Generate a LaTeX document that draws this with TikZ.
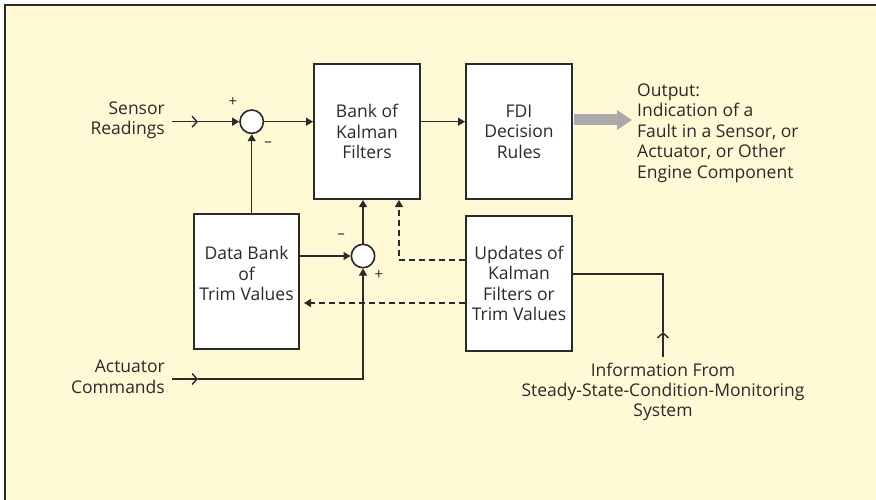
\documentclass[tikz,border=0pt]{standalone}
\usepackage{fontspec}
\setmainfont{Open Sans}
\usetikzlibrary{arrows.meta}
\definecolor{bg}{HTML}{FFF9D6}
\definecolor{ink}{HTML}{2A2A2A}
\definecolor{outgray}{HTML}{A9A9A9}
\newcommand\dtxt{\fontsize{17.5}{20.4}\selectfont}
\begin{document}
\begin{tikzpicture}[x=1pt,y=-1pt,
  blk/.style={draw=ink, line width=2pt, fill=white, minimum width=106pt, minimum height=135pt, inner sep=0pt, align=center, font=\dtxt, text=ink},
  txt/.style={inner sep=0pt, font=\dtxt, text=ink},
  sumc/.style={circle, draw=ink, line width=1.6pt, fill=white, minimum size=23.4pt, inner sep=0pt},
  wire/.style={draw=ink, line width=1.4pt},
  conn/.style={wire, -{Triangle[length=7pt,width=8pt]}},
  dconn/.style={conn, dash pattern=on 6pt off 4pt},
  barb/.style={wire, -{Straight Barb[length=5pt,width=11pt]}},
  sgn/.style={inner sep=0pt, font=\fontsize{15}{15}\selectfont, text=ink}]
\useasboundingbox (0,0) rectangle (876,500);
\fill[bg] (5,5) rectangle (876,500);
\draw[ink, line width=1.5pt] (5,500) -- (5,5) -- (876,5);

% blocks
\node[blk] (bank) at (367,131.5) {Bank of\\Kalman\\Filters};
\node[blk] (fdi) at (519,131.5) {FDI\\Decision\\Rules};
\node[blk, minimum width=105pt] (data) at (246.5,281.5) {};
\node[txt, align=center] (datatxt) at (246.5,273.5) {Data Bank\\of\\Trim Values};
\node[blk] (upd) at (519,283.5) {Updates of\\Kalman\\Filters or\\Trim Values};
% summing junctions
\node[sumc] (c1) at (251.7,121.7) {};
\node[sumc] (c2) at (363,256) {};
\node[sgn] (p1) at (233,102) {+};
\node[sgn] (m1) at (268,144) {–};
\node[sgn] (m2) at (341,236) {–};
\node[sgn] (p2) at (379,275) {+};

% inputs
\node[txt, align=right, anchor=east] (sens) at (165,120) {Sensor\\Readings};
\node[txt, align=right, anchor=east] (act) at (165,377) {Actuator\\Commands};
\coordinate (sin) at (172,121.7);
\coordinate (sbarb) at (198,121.7);
\draw[barb] (sin) -- (sbarb);
\draw[conn] (sbarb) -- (c1);
\coordinate (ain) at (172,379);
\coordinate (abarb) at (198,379);
\draw[barb] (ain) -- (abarb);
\draw[conn] (abarb) -| (c2);

% main connections
\draw[conn] (c1) -- (c1 -| bank.west);
\draw[conn] (bank.east |- c1) -- (fdi.west |- c1);
\draw[conn] (c1 |- data.north) -- (c1);
\draw[conn] (data.east |- c2) -- (c2);
\draw[conn] (c2) -- (c2 |- bank.south);
\draw[dconn] ([yshift=23.5pt]upd.west) -| ([xshift=32pt]bank.south);
\draw[dconn] ([yshift=-19.5pt]upd.west) -- ([xshift=4pt,yshift=-21.5pt]data.east);

% information input
\node[txt, align=center] (info) at (663,392) {Information From\\Steady-State-Condition-Monitoring\\System};
\coordinate (itop) at (663,357);
\coordinate (ibarb) at (663,332);
\draw[barb] (itop) -- (ibarb);
\draw[wire] (ibarb) |- ([yshift=9.5pt]upd.east);

% output
\draw[outgray, line width=11pt, -{Triangle[length=15pt,width=19pt]}] ([xshift=1pt,yshift=11.5pt]fdi.east) -- (632,120);
\node[txt, align=left, anchor=west] (out) at (637,133) {Output:\\Indication of a\\Fault in a Sensor, or\\Actuator, or Other\\Engine Component};
\end{tikzpicture}
\end{document}
